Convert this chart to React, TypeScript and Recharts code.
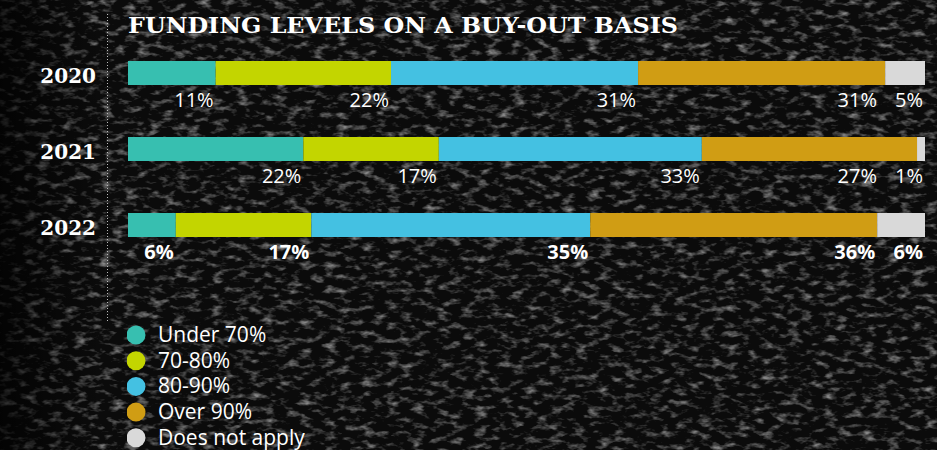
import React from 'react';
import { BarChart, Bar, XAxis, YAxis, LabelList, Legend } from 'recharts';

const years = ['2020', '2021', '2022'];
const seriesNames = ['Under 70%', '70-80%', '80-90%', 'Over 90%', 'Does not apply'];
const seriesKeys = ['under70', 'range7080', 'range8090', 'over90', 'notApply'];
const seriesColors = ['#37BFB0', '#C3D500', '#44C1E2', '#D09D14', '#D9D9D9'];

const under70 = [11, 22, 6];
const range7080 = [22, 17, 17];
const range8090 = [31, 33, 35];
const over90 = [31, 27, 36];
const notApply = [5, 1, 6];

const seriesValues = [under70, range7080, range8090, over90, notApply];

const data = years.map((year, i) => {
  const row: any = { year };
  seriesKeys.forEach((k, s) => {
    row[k] = seriesValues[s][i];
  });
  return row;
});

const W = 937;
const H = 450;
const margin = { top: 35, right: 12, bottom: 187, left: 0 };
const plotRight = W - margin.right;

const labelFont = '"Open Sans", "Noto Sans", sans-serif';
const serifFont = '"DejaVu Serif", serif';

// labels sit under the bar, right aligned to the segment end
const makeLabel = (seriesIndex: number) => (props: any) => {
  const vb = props.viewBox || {};
  const x = props.x ?? vb.x;
  const y = props.y ?? vb.y;
  const width = props.width ?? vb.width;
  const height = props.height ?? vb.height;
  let right = x + width - 2;
  // keep room for the small last label
  if (seriesIndex === 3) right = Math.min(right, plotRight - 48);
  const bold = props.index === 2;
  return (
    <text
      x={right}
      y={y + height + 22}
      textAnchor="end"
      fill="#fff"
      fontFamily={labelFont}
      fontSize={20}
      fontWeight={bold ? 700 : 400}
    >
      {props.value}%
    </text>
  );
};

const YearTick = (props: any) => (
  <text
    x={props.x}
    y={props.y + 10}
    textAnchor="end"
    fill="#fff"
    fontFamily={serifFont}
    fontWeight={700}
    fontSize={20}
  >
    {props.payload.value}
  </text>
);

const LegendContent = (props: any) => {
  const items = seriesNames.map((name) => (props.payload || []).find((p: any) => p.value === name)).filter(Boolean);
  return (
    <svg width={300} height={134} style={{ display: 'block' }}>
      {items.map((p: any, i: number) => (
        <g key={p.value} transform={`translate(0, ${10 + i * 25.7})`}>
          <circle cx={9} cy={9} r={9.5} fill={p.color} />
          <text x={31} y={16} fill="#fff" fontFamily={labelFont} fontSize={21}>
            {p.value}
          </text>
        </g>
      ))}
    </svg>
  );
};

export default function App() {
  return (
    <div style={{ position: 'absolute', left: 0, top: 0, width: W, height: H, background: '#0b0b0b', overflow: 'hidden' }}>
      <svg width={W} height={H} style={{ position: 'absolute', left: 0, top: 0 }}>
        <defs>
          <filter id="tex" x="0" y="0" width="100%" height="100%">
            <feTurbulence type="fractalNoise" baseFrequency="0.08 0.16" numOctaves={3} seed={7} />
            <feColorMatrix
              type="matrix"
              values="0 0 0 0 0.24  0 0 0 0 0.24  0 0 0 0 0.24  2.6 0 0 0 -1.3"
            />
          </filter>
          <linearGradient id="fadeLeft" x1="0" x2="1" y1="0" y2="0">
            <stop offset="0" stopColor="#000" stopOpacity={0.7} />
            <stop offset="0.11" stopColor="#000" stopOpacity={0} />
          </linearGradient>
        </defs>
        <rect width={W} height={H} filter="url(#tex)" />
        <rect width={W} height={H} fill="url(#fadeLeft)" />
        <line x1={107.5} x2={107.5} y1={14} y2={322} stroke="#bbb" strokeWidth={1} strokeDasharray="1 2" />
        <text
          x={128}
          y={33}
          fill="#fff"
          fontFamily={serifFont}
          fontWeight={700}
          fontSize={23}
          textLength={550}
          lengthAdjust="spacingAndGlyphs"
        >
          FUNDING LEVELS ON A BUY-OUT BASIS
        </text>
      </svg>
      <div style={{ position: 'absolute', left: 0, top: 0 }}>
        <BarChart width={W} height={H} data={data} layout="vertical" margin={margin}>
          <XAxis type="number" domain={[0, 100]} hide />
          <YAxis
            type="category"
            dataKey="year"
            width={128}
            axisLine={false}
            tickLine={false}
            tickSize={0}
            tickMargin={32}
            tick={<YearTick />}
          />
          <Legend
            layout="horizontal"
            align="center"
            verticalAlign="middle"
            itemSorter={null}
            wrapperStyle={{ position: 'absolute', left: 127, top: 316, width: 300, height: 134 }}
            content={<LegendContent />}
          />
          {seriesKeys.map((k, s) => (
            <Bar
              key={k}
              dataKey={k}
              name={seriesNames[s]}
              stackId="a"
              fill={seriesColors[s]}
              barSize={24}
              isAnimationActive={false}
            >
              <LabelList dataKey={k} content={makeLabel(s)} />
            </Bar>
          ))}
        </BarChart>
      </div>
    </div>
  );
}
